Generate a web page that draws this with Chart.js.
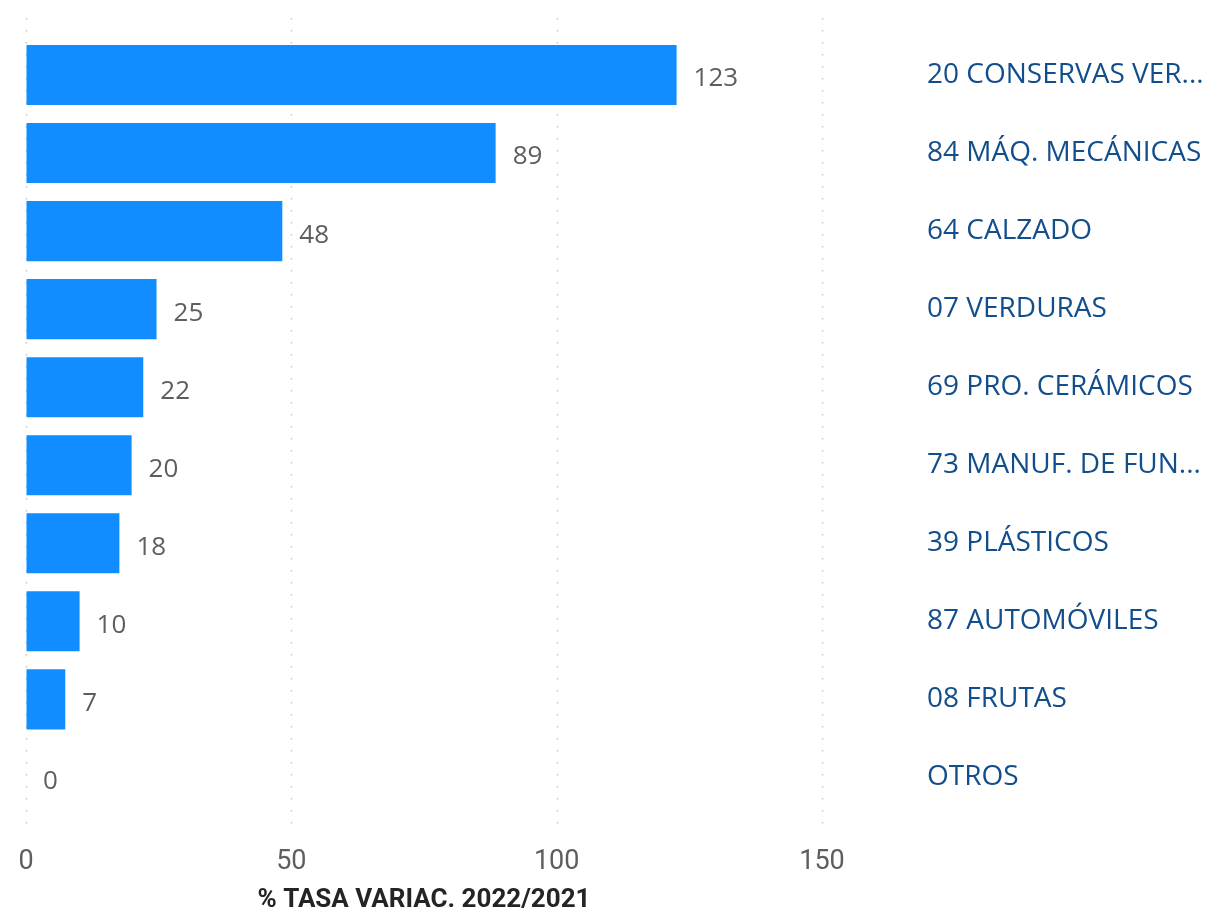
<!DOCTYPE html>
<html lang="es">
<head>
    <meta charset="UTF-8">
    <title>% Tasa variac. 2022/2021</title>
    <script src="https://cdn.jsdelivr.net/npm/chart.js"></script>
    <style>
        html, body { margin: 0; padding: 0; background: #fff; }
        #wrap { width: 1213px; height: 916px; position: relative; }
    </style>
</head>
<body>
    <div id="wrap"><canvas id="grafico"></canvas></div>

    <script>
        // datos
        const categorias = [
            '20 CONSERVAS VER...',
            '84 MÁQ. MECÁNICAS',
            '64 CALZADO',
            '07 VERDURAS',
            '69 PRO. CERÁMICOS',
            '73 MANUF. DE FUN...',
            '39 PLÁSTICOS',
            '87 AUTOMÓVILES',
            '08 FRUTAS',
            'OTROS'
        ];
        const tasaVariacion = [122.6, 88.5, 48.3, 24.6, 22.1, 19.9, 17.6, 10.1, 7.4, 0];
        const ticksX = [0, 50, 100, 150];

        // etiquetas de valor al final de cada barra
        const etiquetasValor = {
            id: 'etiquetasValor',
            afterDatasetsDraw(chart) {
                const ctx = chart.ctx;
                const meta = chart.getDatasetMeta(0);
                ctx.save();
                ctx.font = '26px "Open Sans", "Noto Sans", sans-serif';
                ctx.fillStyle = '#605e5c';
                ctx.textAlign = 'left';
                ctx.textBaseline = 'middle';
                meta.data.forEach((barra, i) => {
                    ctx.fillText(Math.round(tasaVariacion[i]), barra.x + 17, barra.y + 4);
                });
                ctx.restore();
            }
        };

        // líneas de cuadrícula punteadas, algo más largas que el área de categorías
        const cuadricula = {
            id: 'cuadricula',
            beforeDatasetsDraw(chart) {
                const ctx = chart.ctx;
                const x = chart.scales.x;
                const area = chart.chartArea;
                ctx.save();
                ctx.strokeStyle = '#c8c8c8';
                ctx.lineWidth = 1.5;
                ctx.setLineDash([1.5, 10.5]);
                ticksX.forEach(v => {
                    const px = Math.round(x.getPixelForValue(v)) + 0.5;
                    ctx.beginPath();
                    ctx.moveTo(px, area.top - 18);
                    ctx.lineTo(px, area.bottom + 16);
                    ctx.stroke();
                });
                ctx.restore();
            }
        };

        new Chart(document.getElementById('grafico'), {
            type: 'bar',
            data: {
                labels: categorias,
                datasets: [{
                    data: tasaVariacion,
                    backgroundColor: '#118dff',
                    borderWidth: 0,
                    barPercentage: 0.77,
                    categoryPercentage: 1
                }]
            },
            options: {
                indexAxis: 'y',
                responsive: true,
                maintainAspectRatio: false,
                animation: false,
                layout: { padding: { left: 26, top: 36, right: 0, bottom: 0 } },
                plugins: {
                    legend: { display: false },
                    tooltip: { enabled: false }
                },
                scales: {
                    x: {
                        min: 0,
                        max: 150,
                        afterBuildTicks(scale) {
                            scale.ticks = ticksX.map(v => ({ value: v }));
                        },
                        // separación de etiquetas mediante tickLength (invisible)
                        grid: { display: true, drawOnChartArea: false, color: 'transparent', tickLength: 30 },
                        border: { display: false },
                        ticks: {
                            color: '#605e5c',
                            padding: 0,
                            maxRotation: 0,
                            font: { family: '"Roboto", sans-serif', size: 27 }
                        },
                        title: {
                            display: true,
                            text: '% TASA VARIAC. 2022/2021',
                            color: '#252423',
                            padding: { top: 6, bottom: 0 },
                            font: { family: '"Roboto", sans-serif', size: 26, weight: 'bold' }
                        }
                    },
                    y: {
                        position: 'right',
                        grid: { display: true, drawOnChartArea: false, color: 'transparent', tickLength: 105 },
                        border: { display: false },
                        afterFit(scale) { scale.width = 391; },
                        ticks: {
                            color: '#124e8c',
                            padding: 0,
                            crossAlign: 'near',
                            autoSkip: false,
                            font: { family: '"Open Sans", "Noto Sans", sans-serif', size: 28 }
                        }
                    }
                }
            },
            plugins: [cuadricula, etiquetasValor]
        });
    </script>
</body>
</html>
